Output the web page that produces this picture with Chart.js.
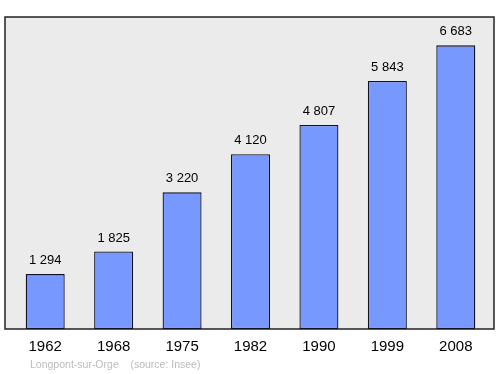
<!DOCTYPE html>
<html>
<head>
<meta charset="utf-8">
<script src="https://cdn.jsdelivr.net/npm/chart.js@4"></script>
<style>
  html, body { margin: 0; padding: 0; background: #fff; }
  #wrap { width: 500px; height: 374px; }
</style>
</head>
<body>
<div id="wrap"><canvas id="popChart" width="500" height="374"></canvas></div>
<script>
const years = ["1962", "1968", "1975", "1982", "1990", "1999", "2008"];
const population = [1294, 1825, 3220, 4120, 4807, 5843, 6683];
const footerText = "Longpont-sur-Orge    (source: Insee)";

function fmt(n) {
  return String(n).replace(/\B(?=(\d{3})+(?!\d))/g, " ");
}

// grey frame behind the bars, value labels and footer
const framePlugin = {
  id: "frame",
  beforeDatasetsDraw(chart) {
    const a = chart.chartArea;
    const ctx = chart.ctx;
    ctx.save();
    ctx.fillStyle = "#ebebeb";
    ctx.fillRect(a.left - 6, a.top, a.right - a.left + 10, a.bottom - a.top);
    ctx.strokeStyle = "#222";
    ctx.lineWidth = 1.5;
    ctx.strokeRect(a.left - 6, a.top, a.right - a.left + 10, a.bottom - a.top);
    ctx.restore();
  },
  afterDatasetsDraw(chart) {
    const ctx = chart.ctx;
    const meta = chart.getDatasetMeta(0);
    ctx.save();
    ctx.fillStyle = "#000";
    ctx.font = "13px 'Liberation Sans', Arial, sans-serif";
    ctx.textAlign = "center";
    ctx.textBaseline = "bottom";
    meta.data.forEach((bar, i) => {
      ctx.fillText(fmt(population[i]), bar.x, bar.y - 7);
    });
    ctx.fillStyle = "#bbb";
    ctx.font = "10.5px 'Liberation Sans', Arial, sans-serif";
    ctx.textAlign = "left";
    ctx.textBaseline = "middle";
    ctx.fillText(footerText, 30, 365);
    ctx.restore();
  }
};

new Chart(document.getElementById("popChart"), {
  type: "bar",
  data: {
    labels: years,
    datasets: [{
      data: population,
      backgroundColor: "#7799ff",
      borderColor: "#111122",
      borderWidth: 1.3,
      borderSkipped: false,
      categoryPercentage: 1,
      barPercentage: 0.57
    }]
  },
  options: {
    responsive: false,
    animation: false,
    layout: { padding: { left: 11, right: 10, top: 17, bottom: 15 } },
    plugins: { legend: { display: false }, tooltip: { enabled: false } },
    scales: {
      x: {
        grid: { display: false },
        border: { display: false },
        afterFit(scale) { scale.height = 30; },
        ticks: {
          color: "#000",
          padding: 1,
          font: { size: 15, family: "'Liberation Sans', Arial, sans-serif" }
        }
      },
      y: {
        display: false,
        min: 0,
        max: 7351
      }
    }
  },
  plugins: [framePlugin]
});
</script>
</body>
</html>
